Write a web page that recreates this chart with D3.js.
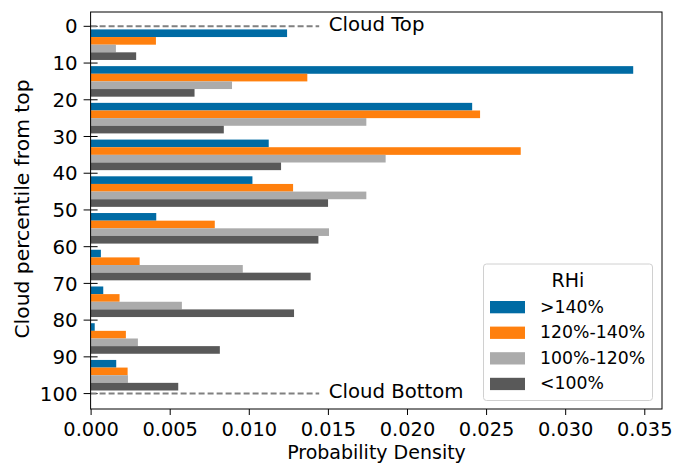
<!DOCTYPE html>
<html><head><meta charset="utf-8">
<script src="https://cdn.jsdelivr.net/npm/d3@7"></script>
<style>body{margin:0;background:#fff;} text{font-family:"DejaVu Sans",sans-serif;}</style>
</head><body>
<svg id="c" width="675" height="463"></svg>
<script>
const binCenters = [5, 15, 25, 35, 45, 55, 65, 75, 85, 95];
const seriesNames = [">140%", "120%-140%", "100%-120%", "<100%"];
const seriesColors = ["#006BA4", "#FF800E", "#ABABAB", "#595959"];
const gt140 =     [0.01242, 0.03430, 0.02412, 0.01126, 0.01023, 0.00415, 0.00065, 0.00080, 0.00026, 0.00162];
const r120_140 =  [0.00413, 0.01370, 0.02462, 0.02719, 0.01280, 0.00785, 0.00310, 0.00183, 0.00223, 0.00234];
const r100_120 =  [0.00160, 0.00894, 0.01743, 0.01865, 0.01743, 0.01507, 0.00962, 0.00577, 0.00299, 0.00236];
const lt100 =     [0.00288, 0.00657, 0.00842, 0.01204, 0.01501, 0.01440, 0.01391, 0.01286, 0.00817, 0.00554];
const series = [gt140, r120_140, r100_120, lt100];
const xTicks = [0, 0.005, 0.01, 0.015, 0.02, 0.025, 0.03, 0.035];
const yTicks = [0, 10, 20, 30, 40, 50, 60, 70, 80, 90, 100];
const refLines = [{v: 0, label: "Cloud Top"}, {v: 100, label: "Cloud Bottom"}];

const svg = d3.select("#c");
const L = 90.6, R = 662, T = 12, B = 409;
const x = d3.scaleLinear().domain([0, 0.03612]).range([L, R]);
const y = d3.scaleLinear().domain([-3.9, 104.2]).range([T, B]);
const barH = 2.08;

// bars
series.forEach((vals, si) => {
  svg.append("g").selectAll("rect").data(vals).join("rect")
    .attr("x", x(0))
    .attr("y", (d, i) => y(binCenters[i] + (si - 2) * barH))
    .attr("width", d => x(d) - x(0))
    .attr("height", y(barH) - y(0))
    .attr("fill", seriesColors[si]);
});

// y axis ticks (in-out)
const yAxisG = svg.append("g");
yTicks.forEach(t => {
  yAxisG.append("line").attr("x1", L - 7).attr("x2", L + 7)
    .attr("y1", y(t)).attr("y2", y(t)).attr("stroke", "#000").attr("stroke-width", 1);
  yAxisG.append("text").attr("x", L - 13).attr("y", y(t)).attr("dy", "0.36em")
    .attr("text-anchor", "end").attr("font-size", "19.8px").attr("fill", "#000").text(t);
});

// reference dashed lines
refLines.forEach(r => {
  svg.append("line").attr("x1", x(0)).attr("x2", x(0.01445))
    .attr("y1", y(r.v)).attr("y2", y(r.v))
    .attr("stroke", "#808080").attr("stroke-width", 2).attr("stroke-dasharray", "6,3");
  svg.append("text").attr("x", x(0.01505)).attr("y", y(r.v) + 4.3)
    .attr("font-size", "19.7px").attr("fill", "#000").text(r.label);
});

// x axis
const xAxis = d3.axisBottom(x).tickValues(xTicks).tickFormat(d3.format(".3f")).tickSizeOuter(0).tickSize(6);
const gx = svg.append("g").attr("transform", `translate(0,${B})`).call(xAxis);
gx.select(".domain").remove();
gx.selectAll("line").attr("stroke", "#000");
gx.selectAll("text").attr("font-size", "19.4px").attr("fill", "#000").attr("dy", "0.92em").attr("font-family", "DejaVu Sans");

// frame
svg.append("rect").attr("x", L).attr("y", T).attr("width", R - L).attr("height", B - T)
  .attr("fill", "none").attr("stroke", "#000").attr("stroke-width", 1);

// labels
svg.append("text").attr("x", 376.5).attr("y", 458.5).attr("text-anchor", "middle")
  .attr("font-size", "19px").attr("fill", "#000").text("Probability Density");
svg.append("text").attr("transform", `translate(28.5,209) rotate(-90)`)
  .attr("text-anchor", "middle").attr("font-size", "20.3px").attr("fill", "#000")
  .text("Cloud percentile from top");

// legend
const lg = svg.append("g");
lg.append("rect").attr("x", 483.5).attr("y", 264).attr("width", 169).attr("height", 136.5)
  .attr("rx", 3).attr("fill", "#fff").attr("fill-opacity", 0.8).attr("stroke", "#d0d0d0").attr("stroke-width", 1);
lg.append("text").attr("x", 568).attr("y", 286.7).attr("text-anchor", "middle")
  .attr("font-size", "19px").attr("fill", "#000").text("RHi");
seriesNames.forEach((n, i) => {
  const yy = 301 + i * 25.6;
  lg.append("rect").attr("x", 490).attr("y", yy).attr("width", 35).attr("height", 12.3)
    .attr("fill", seriesColors[i]);
  lg.append("text").attr("x", 540).attr("y", yy + 11.5).attr("font-size", "17.3px")
    .attr("fill", "#000").text(n);
});
</script>
</body></html>
